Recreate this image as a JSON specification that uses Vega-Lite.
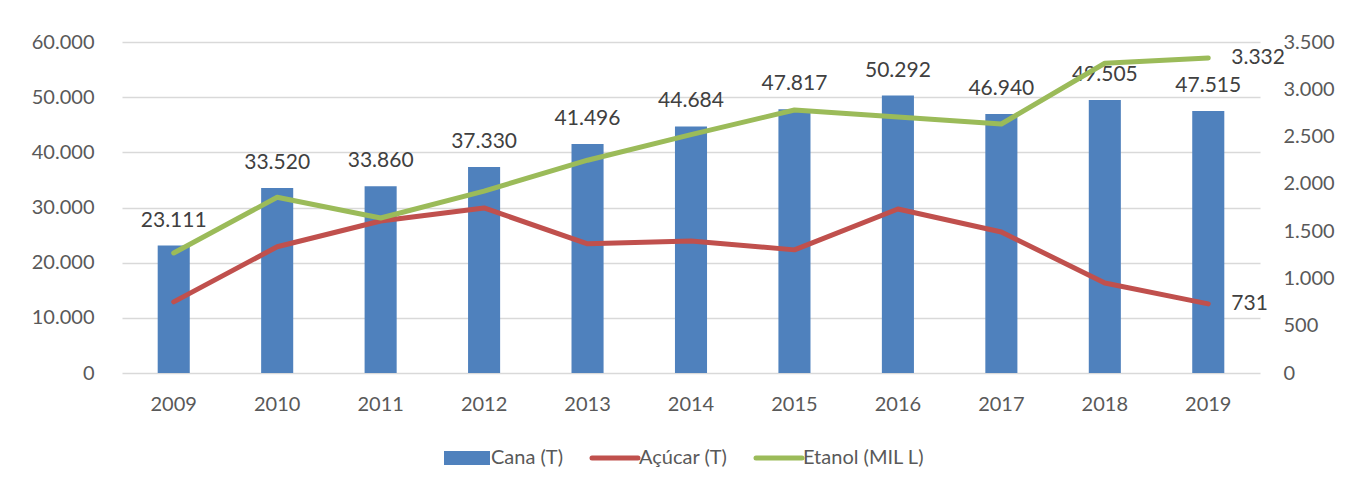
{
  "$schema": "https://vega.github.io/schema/vega-lite/v6.json",
  "width": 1138,
  "height": 331,
  "autosize": {"type": "none"},
  "padding": {"left": 122, "top": 42, "right": 89, "bottom": 116},
  "background": "white",
  "datasets": {
    "cana": [
      {"ano": "2009", "cana": 23111},
      {"ano": "2010", "cana": 33520},
      {"ano": "2011", "cana": 33860},
      {"ano": "2012", "cana": 37330},
      {"ano": "2013", "cana": 41496},
      {"ano": "2014", "cana": 44684},
      {"ano": "2015", "cana": 47817},
      {"ano": "2016", "cana": 50292},
      {"ano": "2017", "cana": 46940},
      {"ano": "2018", "cana": 49505},
      {"ano": "2019", "cana": 47515}
    ],
    "linhas": [
      {"ano": "2009", "serie": "Açúcar (T)", "valor": 752},
      {"ano": "2010", "serie": "Açúcar (T)", "valor": 1335},
      {"ano": "2011", "serie": "Açúcar (T)", "valor": 1607},
      {"ano": "2012", "serie": "Açúcar (T)", "valor": 1745},
      {"ano": "2013", "serie": "Açúcar (T)", "valor": 1366},
      {"ano": "2014", "serie": "Açúcar (T)", "valor": 1396},
      {"ano": "2015", "serie": "Açúcar (T)", "valor": 1302},
      {"ano": "2016", "serie": "Açúcar (T)", "valor": 1734},
      {"ano": "2017", "serie": "Açúcar (T)", "valor": 1491},
      {"ano": "2018", "serie": "Açúcar (T)", "valor": 952},
      {"ano": "2019", "serie": "Açúcar (T)", "valor": 731},
      {"ano": "2009", "serie": "Etanol (MIL L)", "valor": 1269},
      {"ano": "2010", "serie": "Etanol (MIL L)", "valor": 1858},
      {"ano": "2011", "serie": "Etanol (MIL L)", "valor": 1639},
      {"ano": "2012", "serie": "Etanol (MIL L)", "valor": 1924},
      {"ano": "2013", "serie": "Etanol (MIL L)", "valor": 2250},
      {"ano": "2014", "serie": "Etanol (MIL L)", "valor": 2520},
      {"ano": "2015", "serie": "Etanol (MIL L)", "valor": 2781},
      {"ano": "2016", "serie": "Etanol (MIL L)", "valor": 2707},
      {"ano": "2017", "serie": "Etanol (MIL L)", "valor": 2633},
      {"ano": "2018", "serie": "Etanol (MIL L)", "valor": 3275},
      {"ano": "2019", "serie": "Etanol (MIL L)", "valor": 3332}
    ]
  },
  "layer": [
    {
      "data": {"name": "cana"},
      "layer": [
        {
          "mark": {"type": "bar", "color": "#4F81BD"},
          "encoding": {
            "x": {"field": "ano", "type": "ordinal", "scale": {"paddingInner": 0.69, "paddingOuter": 0.345},
              "axis": {"title": null, "labelAngle": 0, "domain": false, "ticks": false, "labelPadding": 21, "labelFontSize": 20, "labelColor": "#595959", "labelFont": "Lato"}},
            "y": {"field": "cana", "type": "quantitative", "scale": {"domain": [0, 60000]},
              "axis": {"title": null, "values": [0, 10000, 20000, 30000, 40000, 50000, 60000], "format": ",d", "domain": false, "ticks": false, "grid": true, "gridColor": "#D9D9D9", "gridWidth": 1.5, "labelPadding": 28, "labelFontSize": 20, "labelColor": "#595959", "labelFont": "Lato"}}
          }
        },
        {
          "mark": {"type": "text", "dy": -25, "fontSize": 21, "font": "Lato", "color": "#404040", "baseline": "middle"},
          "encoding": {
            "x": {"field": "ano", "type": "ordinal", "scale": {"paddingInner": 0.69, "paddingOuter": 0.345},
              "axis": {"title": null, "labelAngle": 0, "domain": false, "ticks": false, "labelPadding": 21, "labelFontSize": 20, "labelColor": "#595959", "labelFont": "Lato"}},
            "y": {"field": "cana", "type": "quantitative", "scale": {"domain": [0, 60000]},
              "axis": {"title": null, "values": [0, 10000, 20000, 30000, 40000, 50000, 60000], "format": ",d", "domain": false, "ticks": false, "grid": true, "gridColor": "#D9D9D9", "gridWidth": 1.5, "labelPadding": 28, "labelFontSize": 20, "labelColor": "#595959", "labelFont": "Lato"}},
            "text": {"field": "cana", "type": "quantitative", "format": ",d"}
          }
        }
      ]
    },
    {
      "data": {"name": "linhas"},
      "layer": [
        {
          "mark": {"type": "line", "strokeWidth": 5, "strokeCap": "round", "strokeJoin": "round"},
          "encoding": {
            "x": {"field": "ano", "type": "ordinal", "scale": {"paddingInner": 0.69, "paddingOuter": 0.345},
              "axis": {"title": null, "labelAngle": 0, "domain": false, "ticks": false, "labelPadding": 21, "labelFontSize": 20, "labelColor": "#595959", "labelFont": "Lato"}},
            "y": {"field": "valor", "type": "quantitative", "scale": {"domain": [0, 3500]},
              "axis": {"orient": "right", "title": null, "values": [0, 500, 1000, 1500, 2000, 2500, 3000, 3500], "format": ",d", "domain": false, "ticks": false, "grid": false, "labelPadding": 23, "labelFontSize": 20, "labelColor": "#595959", "labelFont": "Lato"}},
            "color": {
              "field": "serie", "type": "nominal",
              "scale": {"domain": ["Cana (T)", "Açúcar (T)", "Etanol (MIL L)"], "range": ["#4F81BD", "#C0504D", "#9BBB59"]},
              "legend": {
                "title": null, "orient": "bottom", "direction": "horizontal", "offset": 34,
                "symbolType": "stroke", "symbolSize": 2116, "symbolStrokeWidth": 5,
                "labelFontSize": 20, "labelColor": "#595959", "labelFont": "Lato", "labelOffset": 14, "columnPadding": 18,
                "encode": {
                  "symbols": {"update": {
                    "shape": {"signal": "datum.value === 'Cana (T)' ? 'M-1,-0.3H1V0.3H-1Z' : 'stroke'"},
                    "fill": {"signal": "datum.value === 'Cana (T)' ? '#4F81BD' : 'transparent'"},
                    "strokeWidth": {"signal": "datum.value === 'Cana (T)' ? 0 : 5"},
                    "strokeCap": {"value": "round"}
                  }}
                }
              }
            }
          }
        },
        {
          "transform": [{"filter": "datum.ano == '2019'"}],
          "mark": {"type": "text", "align": "left", "dx": 23, "baseline": "middle", "fontSize": 21, "font": "Lato", "color": "#404040"},
          "encoding": {
            "x": {"field": "ano", "type": "ordinal", "scale": {"paddingInner": 0.69, "paddingOuter": 0.345},
              "axis": {"title": null, "labelAngle": 0, "domain": false, "ticks": false, "labelPadding": 21, "labelFontSize": 20, "labelColor": "#595959", "labelFont": "Lato"}},
            "y": {"field": "valor", "type": "quantitative", "scale": {"domain": [0, 3500]},
              "axis": {"orient": "right", "title": null, "values": [0, 500, 1000, 1500, 2000, 2500, 3000, 3500], "format": ",d", "domain": false, "ticks": false, "grid": false, "labelPadding": 23, "labelFontSize": 20, "labelColor": "#595959", "labelFont": "Lato"}},
            "text": {"field": "valor", "type": "quantitative", "format": ",d"}
          }
        }
      ]
    }
  ],
  "resolve": {"scale": {"y": "independent"}},
  "config": {
    "font": "Lato",
    "view": {"stroke": null},
    "locale": {"number": {"decimal": ",", "thousands": ".", "grouping": [3], "currency": ["R$", ""]}},
    "legend": {"layout": {"bottom": {"anchor": "middle"}}}
  }
}
